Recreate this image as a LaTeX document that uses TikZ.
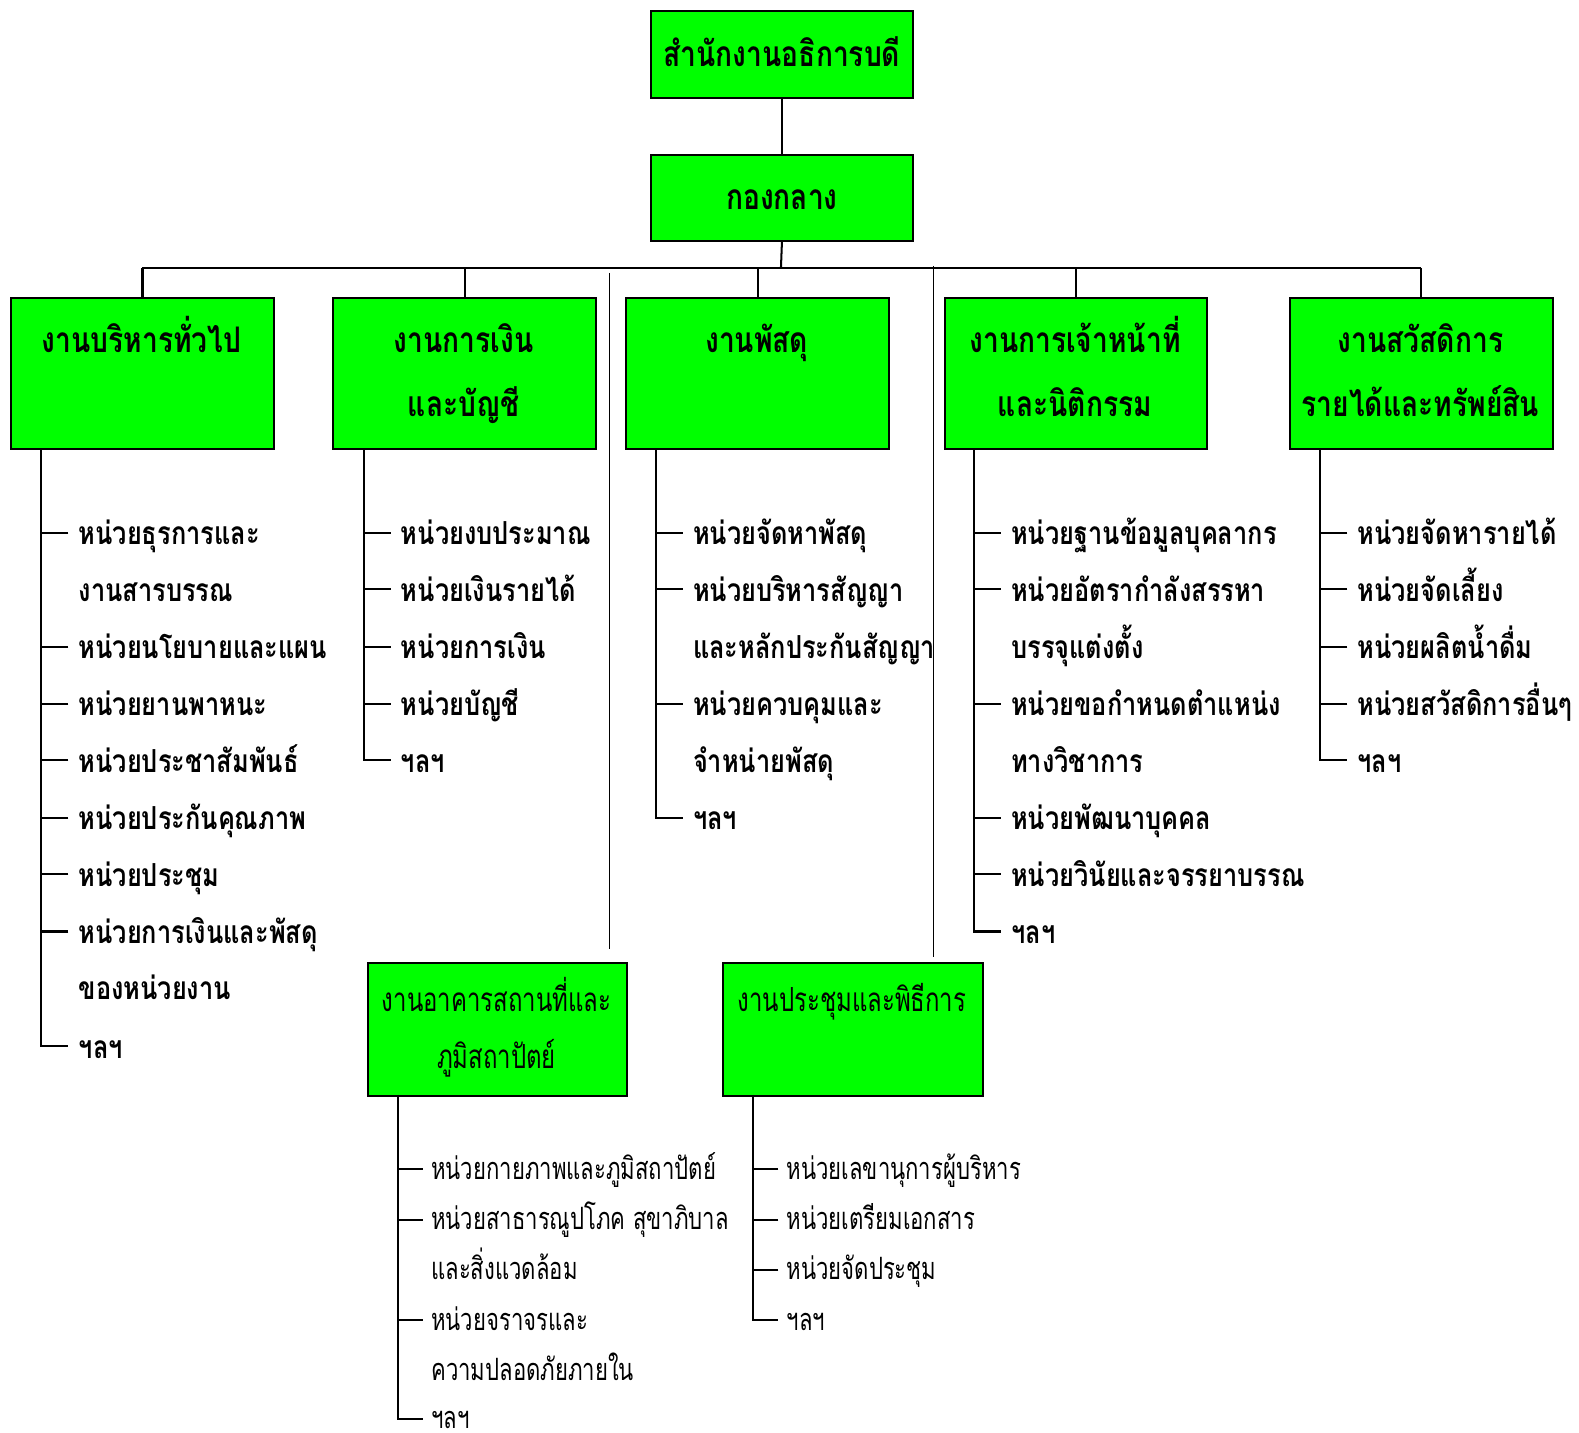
\documentclass[tikz,border=0pt]{standalone}
\usepackage{fontspec}
\newfontfamily\thai[Script=Thai,FakeStretch=0.8]{Loma}
\newfontfamily\thain[Script=Thai,FakeStretch=0.72]{Loma}
\definecolor{boxgreen}{RGB}{0,255,0}
\begin{document}
\begin{tikzpicture}[x=1pt,y=-1pt,
  box/.style={draw, line width=2pt, fill=boxgreen, anchor=north west, inner sep=0, minimum width=261pt, minimum height=150pt},
  ttl/.style={font=\thai\bfseries\fontsize{35}{40}\selectfont, inner sep=0, anchor=base, yshift=-12pt},
  ttln/.style={font=\thain\fontsize{33}{40}\selectfont, inner sep=0, anchor=base, yshift=-11pt},
  itm/.style={anchor=base west, inner xsep=10pt, inner ysep=0, font=\thai\bfseries\fontsize{31.5}{36}\selectfont, yshift=-12pt},
  tk/.style={yshift=12pt},
  itmn/.style={anchor=base west, inner xsep=8pt, inner ysep=0, font=\thain\fontsize{30.5}{36}\selectfont, yshift=-10pt},
  tkn/.style={yshift=10pt},
  con/.style={line width=2pt},
  thinline/.style={line width=1pt}]
\useasboundingbox (0,0) rectangle (1568,1423);
% top
\node[box, minimum height=86pt] (top) at (645,10) {};
\node[ttl] (topt) at (top.center) {สำนักงานอธิการบดี};
\node[box, minimum height=85pt] (kk) at (645,153) {};
\node[ttl] (kkt) at (kk.center) {กองกลาง};
\draw[con] (top.south) -- (kk.north);
\coordinate (bar) at (775.5,266);
\draw[con] (kk.south) -- (bar);
% second row
\node[box] (A) at (10,295) {};
\node[box] (B) at (330,295) {};
\node[box] (C) at (621,295) {};
\node[box] (D) at (937,295) {};
\node[box] (E) at (1280,295) {};
\draw[con] (A.north |- bar) -- (E.north |- bar);
\foreach \b in {A,B,C,D,E} \draw[con] (\b.north |- bar) -- (\b.north);
\node[ttl] (At1) at (140.5,338) {งานบริหารทั่วไป};
\node[ttl] (Bt1) at (460.5,338) {งานการเงิน};
\node[ttl] (Bt2) at (460.5,402) {และบัญชี};
\node[ttl] (Ct1) at (751.5,338) {งานพัสดุ};
\node[ttl] (Dt1) at (1067.5,338) {งานการเจ้าหน้าที่};
\node[ttl] (Dt2) at (1067.5,402) {และนิติกรรม};
\node[ttl] (Et1) at (1410.5,338) {งานสวัสดิการ};
\node[ttl] (Et2) at (1410.5,402) {รายได้และทรัพย์สิน};
% thin verticals
\coordinate (v1a) at (605,271); \coordinate (v1b) at (605,942);
\coordinate (v2a) at (927,264); \coordinate (v2b) at (927,950);
\draw[thinline] (v1a) -- (v1b);
\draw[thinline] (v2a) -- (v2b);
% lower boxes
\node[box, minimum width=258pt, minimum height=132pt] (F) at (364,955) {};
\node[box, minimum width=258pt, minimum height=132pt] (G) at (717,955) {};
\node[ttln] (Ft1) at (493,993) {งานอาคารสถานที่และ};
\node[ttln] (Ft2) at (493,1050) {ภูมิสถาปัตย์};
\node[ttln] (Gt1) at (846,993) {งานประชุมและพิธีการ};
% list A
\coordinate (sA) at (41,445);
\node[itm] (a1) at (68,529) {หน่วยธุรการและ};
\node[itm] (a2) at (68,585) {งานสารบรรณ};
\node[itm] (a3) at (68,642) {หน่วยนโยบายและแผน};
\node[itm] (a4) at (68,699) {หน่วยยานพาหนะ};
\node[itm] (a5) at (68,755) {หน่วยประชาสัมพันธ์};
\node[itm] (a6) at (68,812) {หน่วยประกันคุณภาพ};
\node[itm] (a7) at (68,868) {หน่วยประชุม};
\node[itm] (a8) at (68,925) {หน่วยการเงินและพัสดุ};
\node[itm] (a9) at (68,981) {ของหน่วยงาน};
\node[itm] (a10) at (68,1039) {ฯลฯ};
\draw[con] (sA) |- ([tk]a10.base west);
\foreach \i in {1,3,4,5,6,7,8} \draw[con] ([tk]a\i.base west) -- ([tk]a\i.base west -| sA);
% list B
\coordinate (sB) at (361,445);
\node[itm] (b1) at (388,529) {หน่วยงบประมาณ};
\node[itm] (b2) at (388,585) {หน่วยเงินรายได้};
\node[itm] (b3) at (388,642) {หน่วยการเงิน};
\node[itm] (b4) at (388,699) {หน่วยบัญชี};
\node[itm] (b5) at (388,755) {ฯลฯ};
\draw[con] (sB) |- ([tk]b5.base west);
\foreach \i in {1,2,3,4} \draw[con] ([tk]b\i.base west) -- ([tk]b\i.base west -| sB);
% list C
\coordinate (sC) at (651,445);
\node[itm] (c1) at (678,529) {หน่วยจัดหาพัสดุ};
\node[itm] (c2) at (678,585) {หน่วยบริหารสัญญา};
\node[itm] (c3) at (678,642) {และหลักประกันสัญญา};
\node[itm] (c4) at (678,699) {หน่วยควบคุมและ};
\node[itm] (c5) at (678,755) {จำหน่ายพัสดุ};
\node[itm] (c6) at (678,812) {ฯลฯ};
\draw[con] (sC) |- ([tk]c6.base west);
\foreach \i in {1,2,4} \draw[con] ([tk]c\i.base west) -- ([tk]c\i.base west -| sC);
% list D
\coordinate (sD) at (967,445);
\node[itm] (d1) at (994,529) {หน่วยฐานข้อมูลบุคลากร};
\node[itm] (d2) at (994,585) {หน่วยอัตรากำลังสรรหา};
\node[itm] (d3) at (994,642) {บรรจุแต่งตั้ง};
\node[itm] (d4) at (994,699) {หน่วยขอกำหนดตำแหน่ง};
\node[itm] (d5) at (994,755) {ทางวิชาการ};
\node[itm] (d6) at (994,812) {หน่วยพัฒนาบุคคล};
\node[itm] (d7) at (994,868) {หน่วยวินัยและจรรยาบรรณ};
\node[itm] (d8) at (994,925) {ฯลฯ};
\draw[con] (sD) |- ([tk]d8.base west);
\foreach \i in {1,2,4,6,7} \draw[con] ([tk]d\i.base west) -- ([tk]d\i.base west -| sD);
% list E
\coordinate (sE) at (1311,445);
\node[itm] (e1) at (1338,529) {หน่วยจัดหารายได้};
\node[itm] (e2) at (1338,585) {หน่วยจัดเลี้ยง};
\node[itm] (e3) at (1338,642) {หน่วยผลิตน้ำดื่ม};
\node[itm] (e4) at (1338,699) {หน่วยสวัสดิการอื่นๆ};
\node[itm] (e5) at (1338,755) {ฯลฯ};
\draw[con] (sE) |- ([tk]e5.base west);
\foreach \i in {1,2,3,4} \draw[con] ([tk]e\i.base west) -- ([tk]e\i.base west -| sE);
% list F
\coordinate (sF) at (395,1087);
\node[itmn] (f1) at (420,1161) {หน่วยกายภาพและภูมิสถาปัตย์};
\node[itmn] (f2) at (420,1211) {หน่วยสาธารณูปโภค สุขาภิบาล};
\node[itmn] (f3) at (420,1261) {และสิ่งแวดล้อม};
\node[itmn] (f4) at (420,1311) {หน่วยจราจรและ};
\node[itmn] (f5) at (420,1361) {ความปลอดภัยภายใน};
\node[itmn] (f6) at (420,1409) {ฯลฯ};
\draw[con] (sF) |- ([tkn]f6.base west);
\foreach \i in {1,2,4} \draw[con] ([tkn]f\i.base west) -- ([tkn]f\i.base west -| sF);
% list G
\coordinate (sG) at (748,1087);
\node[itmn] (g1) at (773,1161) {หน่วยเลขานุการผู้บริหาร};
\node[itmn] (g2) at (773,1211) {หน่วยเตรียมเอกสาร};
\node[itmn] (g3) at (773,1261) {หน่วยจัดประชุม};
\node[itmn] (g4) at (773,1311) {ฯลฯ};
\draw[con] (sG) |- ([tkn]g4.base west);
\foreach \i in {1,2,3} \draw[con] ([tkn]g\i.base west) -- ([tkn]g\i.base west -| sG);
\end{tikzpicture}
\end{document}
